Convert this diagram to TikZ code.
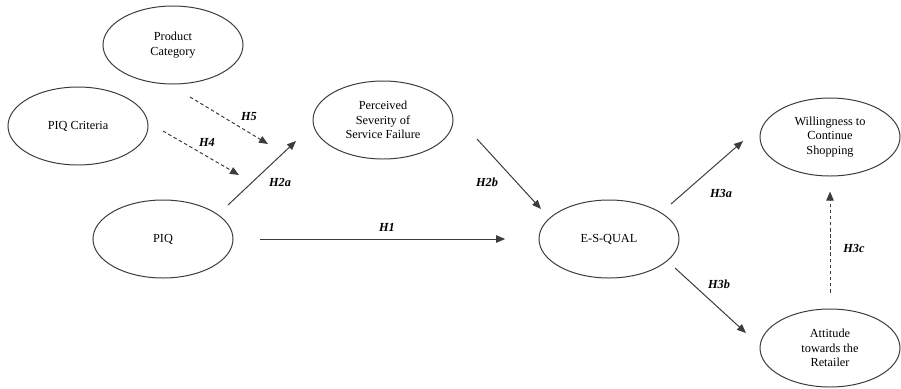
\documentclass[tikz,border=0pt]{standalone}
\usepackage{fontspec}
\setmainfont{Liberation Serif}
\usepackage{tikz}
\usetikzlibrary{arrows.meta,shapes.geometric}
\tikzset{>={Triangle[length=0.27cm,width=0.22cm]}}
\definecolor{lineg}{RGB}{60,60,60}

\begin{document}
\begin{tikzpicture}[x=0.03cm,y=-0.03cm,
    var/.style={draw=lineg,line width=0.85pt,ellipse,minimum width=4.2cm,minimum height=2.34cm,inner sep=0pt,align=center,font=\fontsize{10.5}{12.3}\selectfont},
    hyp/.style={font=\fontsize{10.5}{12}\selectfont\bfseries\itshape},
    link/.style={->,draw=lineg,line width=0.85pt},
    dlink/.style={link,dash pattern=on 3pt off 2.2pt}]
      \useasboundingbox (0,0) rectangle (901,388);

      \node[var](pc) at (173, 45) {Product\\Category};
      \node[var](pqc) at (78, 126) {PIQ Criteria};
      \node[var](psf) at (383, 120) {Perceived\\Severity of\\Service Failure};
      \node[var](piq) at (163, 239) {PIQ};
      \node[var](esq) at (609, 239) {E-S-QUAL};
      \node[var](wtc) at (830, 137) {Willingness to\\Continue\\Shopping};
      \node[var](atr) at (830, 348) {Attitude\\towards the\\Retailer};

      % ends of the floating arrows
      \coordinate (h5s) at (190, 97);
      \coordinate (h5e) at (268, 144);
      \coordinate (h4s) at (163, 131);
      \coordinate (h4e) at (239, 175);
      \coordinate (h2as) at (228, 205);
      \coordinate (h2ae) at (296, 141);
      \coordinate (h2bs) at (477, 139);
      \coordinate (h2be) at (541, 209);
      \coordinate (h3as) at (671, 204);
      \coordinate (h3ae) at (743, 141);
      \coordinate (h3bs) at (675, 268);
      \coordinate (h3be) at (746, 333);

      \draw[link,shorten <=0.8cm,shorten >=1cm] (piq) -- (esq);
      \draw[link] (h2as) -- (h2ae);
      \draw[link] (h2bs) -- (h2be);
      \draw[link] (h3as) -- (h3ae);
      \draw[link] (h3bs) -- (h3be);
      \draw[dlink] (h5s) -- (h5e);
      \draw[dlink] (h4s) -- (h4e);
      \draw[dlink,shorten <=0.48cm,shorten >=0.45cm] (atr) -- (wtc);

      \node[hyp](l5) at (249, 117) {H5};
      \node[hyp](l4) at (207, 142) {H4};
      \node[hyp](l2a) at (280, 182) {H2a};
      \node[hyp](l1) at (387, 227) {H1};
      \node[hyp](l2b) at (487, 182) {H2b};
      \node[hyp](l3a) at (721, 193) {H3a};
      \node[hyp](l3b) at (719, 284) {H3b};
      \node[hyp](l3c) at (854, 248) {H3c};
\end{tikzpicture}
\end{document}
